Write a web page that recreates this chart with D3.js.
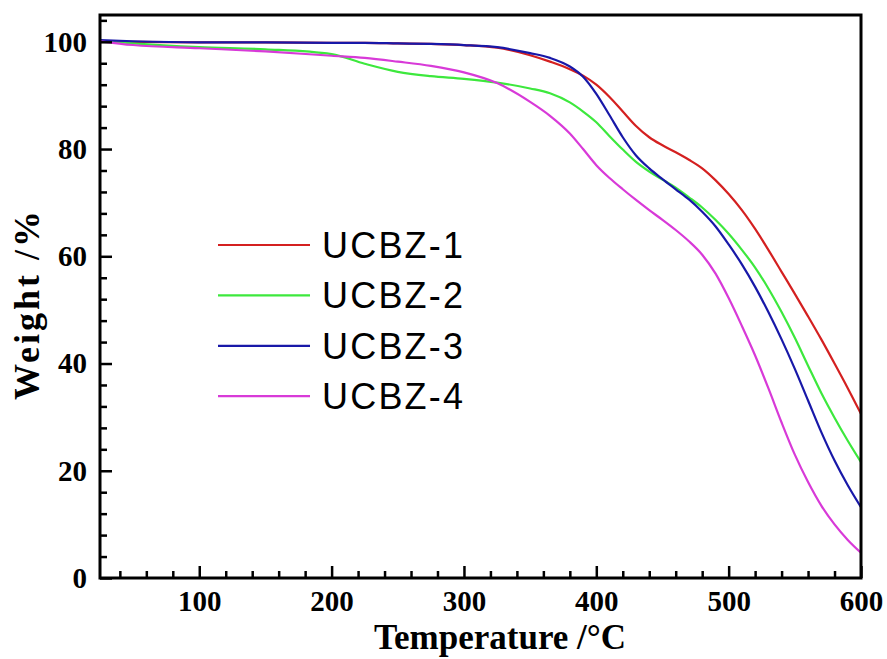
<!DOCTYPE html>
<html>
<head>
<meta charset="utf-8">
<script src="https://cdn.jsdelivr.net/npm/d3@7"></script>
<style>
  html, body { margin: 0; padding: 0; background: #fff; }
  svg { display: block; }
</style>
</head>
<body>
<svg id="chart" width="887" height="659"></svg>
<script>
// TGA curves: weight retention vs temperature
const temperature = [25, 50, 100, 150, 200, 225, 250, 275, 300, 325, 350, 365, 380, 390, 400,
  410, 420, 430, 440, 450, 460, 470, 480, 490, 500, 510, 520, 530, 540, 550, 560, 570, 580, 590, 600];

const ucbz1 = [100.2, 100.0, 99.9, 99.9, 99.8, 99.8, 99.7, 99.6, 99.4, 98.9, 97.5, 96.3, 94.9, 93.7, 92.0,
  89.7, 87.0, 84.3, 82.2, 80.7, 79.4, 78.0, 76.4, 74.2, 71.6, 68.6, 65.1, 61.2, 57.1, 53.0, 48.8, 44.5, 40.0, 35.4, 30.6];

const ucbz2 = [100.2, 99.7, 99.0, 98.6, 97.7, 95.9, 94.4, 93.6, 93.1, 92.4, 91.3, 90.4, 88.7, 87.0, 85.0,
  82.4, 79.9, 77.6, 75.8, 74.3, 72.8, 71.0, 69.1, 66.8, 64.2, 61.2, 57.9, 54.0, 49.6, 44.8, 39.6, 34.5, 29.9, 25.6, 21.6];

const ucbz3 = [100.3, 100.1, 99.9, 99.9, 99.8, 99.8, 99.7, 99.6, 99.4, 99.0, 97.9, 97.0, 95.4, 93.5, 90.3,
  86.3, 82.2, 78.8, 76.4, 74.4, 72.5, 70.6, 68.3, 65.6, 62.2, 58.5, 54.3, 49.6, 44.5, 39.0, 33.1, 27.2, 21.9, 17.3, 13.2];

const ucbz4 = [100.1, 99.4, 98.8, 98.2, 97.4, 97.0, 96.3, 95.5, 94.3, 92.3, 88.8, 86.2, 82.9, 80.0, 77.0,
  74.6, 72.5, 70.5, 68.6, 66.8, 64.9, 62.8, 60.3, 56.8, 52.2, 47.0, 41.5, 35.4, 29.0, 23.0, 17.9, 13.5, 10.0, 7.1, 4.7];

const seriesNames = ["UCBZ-1", "UCBZ-2", "UCBZ-3", "UCBZ-4"];
const seriesValues = [ucbz1, ucbz2, ucbz3, ucbz4];
const seriesColors = ["#d42020", "#3de83d", "#1818a8", "#d83ad8"];

const xMajorTicks = [100, 200, 300, 400, 500, 600];
const xMinorTicks = d3.range(40, 600, 20).filter(v => v % 100 !== 0);
const yMajorTicks = [0, 20, 40, 60, 80, 100];
const yMinorTicks = d3.range(4, 105, 4).filter(v => v % 20 !== 0);

const margin = { left: 100, top: 15, right: 26, bottom: 81 };
const W = 887, H = 659;
const pw = W - margin.left - margin.right;
const ph = H - margin.top - margin.bottom;

const svg = d3.select("#chart");
const g = svg.append("g").attr("transform", `translate(${margin.left},${margin.top})`);

const x = d3.scaleLinear().domain([25, 600]).range([0, pw]);
const y = d3.scaleLinear().domain([0, 105]).range([ph, 0]);

const serif = "'Liberation Serif', 'Times New Roman', serif";

// clip for curves
svg.append("defs").append("clipPath").attr("id", "plot-clip")
  .append("rect").attr("width", pw).attr("height", ph);

// curves
const line = d3.line()
  .x(d => x(d[0]))
  .y(d => y(d[1]))
  .curve(d3.curveMonotoneX);

const curves = g.append("g").attr("clip-path", "url(#plot-clip)");
seriesValues.forEach((vals, i) => {
  curves.append("path")
    .datum(temperature.map((t, k) => [t, vals[k]]))
    .attr("fill", "none")
    .attr("stroke", seriesColors[i])
    .attr("stroke-width", 2.2)
    .attr("stroke-linejoin", "round")
    .attr("d", line);
});

// axes with inward ticks
function styleAxis(sel) {
  sel.select(".domain").remove();
  sel.selectAll(".tick line").attr("stroke", "#000").attr("stroke-width", 2.5);
  sel.selectAll("text")
    .attr("font-family", serif)
    .attr("font-weight", "bold")
    .attr("font-size", 29)
    .attr("fill", "#000");
}

g.append("g")
  .attr("transform", `translate(0,${ph})`)
  .call(d3.axisBottom(x).tickValues(xMinorTicks).tickSize(-7).tickFormat(""))
  .call(styleAxis);

g.append("g")
  .attr("transform", `translate(0,${ph})`)
  .call(d3.axisBottom(x).tickValues(xMajorTicks).tickSize(-12).tickPadding(12.9).tickFormat(d3.format("d")))
  .call(styleAxis);

g.append("g")
  .call(d3.axisLeft(y).tickValues(yMinorTicks).tickSize(-7).tickFormat(""))
  .call(styleAxis);

g.append("g")
  .call(d3.axisLeft(y).tickValues(yMajorTicks).tickSize(-12).tickPadding(13).tickFormat(d3.format("d")))
  .call(styleAxis);

// frame
g.append("rect")
  .attr("width", pw).attr("height", ph)
  .attr("fill", "none").attr("stroke", "#000").attr("stroke-width", 3);

// axis titles
svg.append("text")
  .attr("x", 500)
  .attr("y", 649)
  .attr("text-anchor", "middle")
  .attr("font-family", serif).attr("font-weight", "bold").attr("font-size", 35)
  .text("Temperature /\u00B0C");

svg.append("text")
  .attr("transform", `translate(39,${margin.top + 289}) rotate(-90)`)
  .attr("text-anchor", "middle")
  .attr("font-family", serif).attr("font-weight", "bold").attr("font-size", 36)
  .attr("letter-spacing", 3)
  .text("Weight /%");

// legend
const legend = svg.append("g").attr("transform", "translate(218,245)");
seriesNames.forEach((name, i) => {
  const row = legend.append("g").attr("transform", `translate(0,${i * 50.4})`);
  row.append("line")
    .attr("x1", 0).attr("x2", 92).attr("y1", 0).attr("y2", 0)
    .attr("stroke", seriesColors[i]).attr("stroke-width", 2.2);
  row.append("text")
    .attr("x", 104).attr("y", 13)
    .attr("font-family", "'Liberation Sans', Arial, sans-serif")
    .attr("font-size", 36)
    .attr("letter-spacing", 2.2)
    .attr("fill", "#000")
    .text(name);
});
</script>
</body>
</html>
